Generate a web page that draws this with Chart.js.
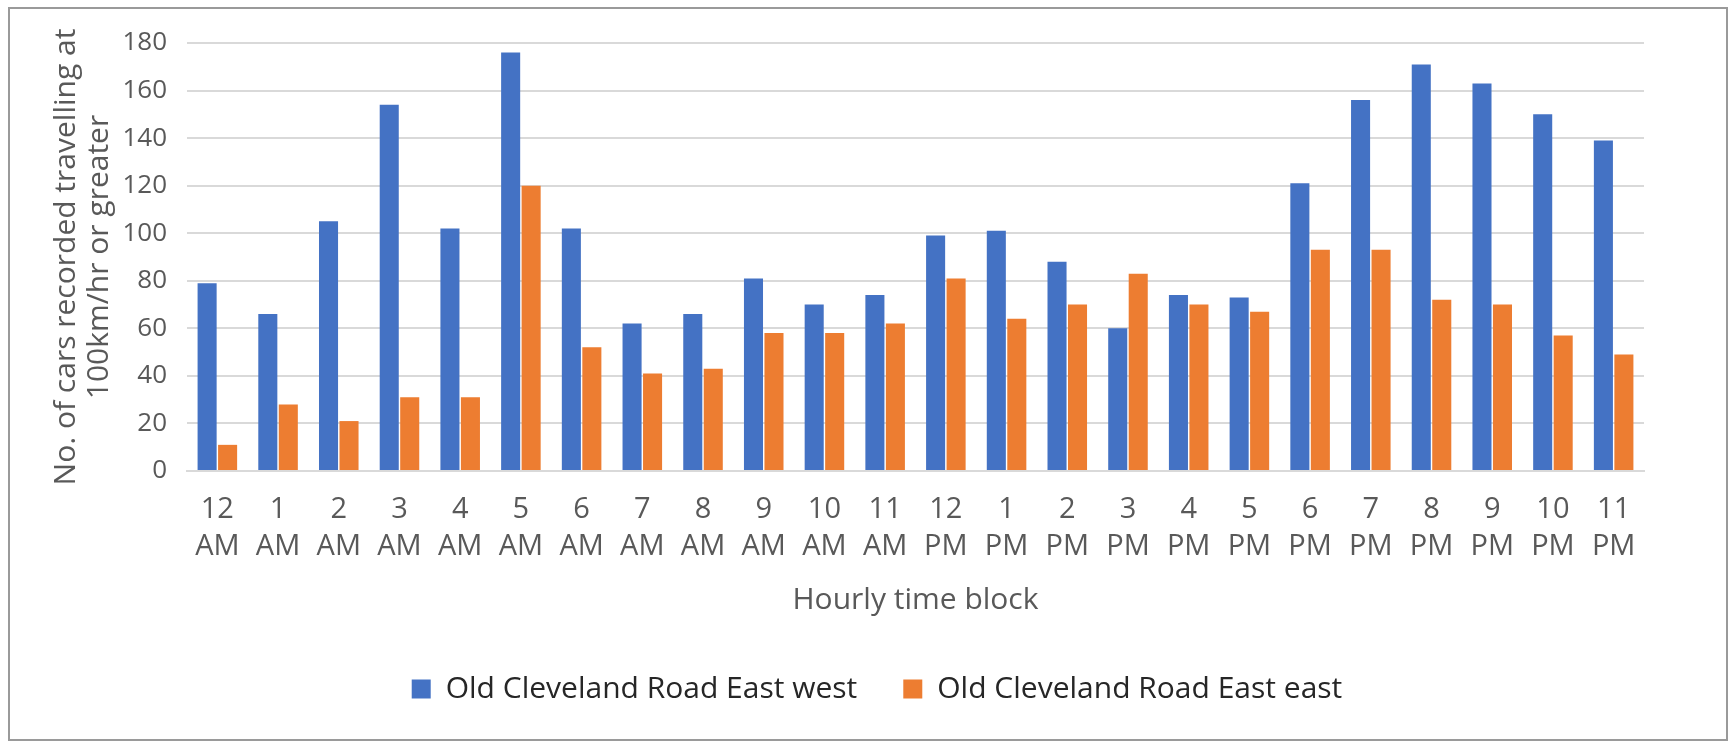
<!DOCTYPE html>
<html>
<head>
<meta charset="utf-8">
<script src="https://cdn.jsdelivr.net/npm/chart.js@4"></script>
<style>
  html, body { margin: 0; padding: 0; background: #fff; }
  #wrap { position: absolute; left: 0; top: 0; width: 1732px; height: 743px; }
  #frame {
    position: absolute; left: 8px; top: 7px; width: 1716px; height: 730px;
    border: 2px solid #9a9a9a; pointer-events: none;
  }
</style>
</head>
<body>
<div id="wrap">
  <canvas id="chart" width="1732" height="743"></canvas>
  <div id="frame"></div>
</div>
<script>
const hours = [
  ["12", "AM"], ["1", "AM"], ["2", "AM"], ["3", "AM"], ["4", "AM"], ["5", "AM"],
  ["6", "AM"], ["7", "AM"], ["8", "AM"], ["9", "AM"], ["10", "AM"], ["11", "AM"],
  ["12", "PM"], ["1", "PM"], ["2", "PM"], ["3", "PM"], ["4", "PM"], ["5", "PM"],
  ["6", "PM"], ["7", "PM"], ["8", "PM"], ["9", "PM"], ["10", "PM"], ["11", "PM"],
];
const westbound = [79, 66, 105, 154, 102, 176, 102, 62, 66, 81, 70, 74,
                   99, 101, 88, 60, 74, 73, 121, 156, 171, 163, 150, 139];
const eastbound = [11, 28, 21, 31, 31, 120, 52, 41, 43, 58, 58, 62,
                   81, 64, 70, 83, 70, 67, 93, 93, 72, 70, 57, 49];
const seriesNames = ["Old Cleveland Road East west", "Old Cleveland Road East east"];
const yTitle = ["No. of cars recorded travelling at", "100km/hr or greater"];
const xTitle = "Hourly time block";

const FONT = "'Open Sans', 'Noto Sans', sans-serif";
const GREY = "#595959";
const GRID = "#d9d9d9";

new Chart(document.getElementById("chart"), {
  type: "bar",
  data: {
    labels: hours,
    datasets: [
      { label: seriesNames[0], data: westbound, backgroundColor: "#4472c4" },
      { label: seriesNames[1], data: eastbound, backgroundColor: "#ed7d31" },
    ],
  },
  options: {
    responsive: false,
    animation: false,
    events: [],
    categoryPercentage: 0.675,
    barPercentage: 0.93,
    layout: { padding: { left: 110, right: 88, top: 43, bottom: 29 } },
    plugins: {
      tooltip: { enabled: false },
      legend: {
        position: "bottom",
        labels: {
          boxWidth: 19,
          boxHeight: 19,
          padding: 46,
          color: "#262626",
          font: { family: FONT, size: 30 },
        },
      },
    },
    scales: {
      x: {
        grid: { display: false, drawTicks: false },
        border: { color: GRID, width: 2 },
        ticks: {
          color: GREY,
          padding: 20,
          maxRotation: 0,
          autoSkip: false,
          font: { family: FONT, size: 29, lineHeight: 1.28 },
        },
        title: {
          display: true,
          text: xTitle,
          color: GREY,
          padding: { top: 0, bottom: 10 },
          font: { family: FONT, size: 30, lineHeight: 1.2 },
        },
        // axis band runs from the plot floor down to the legend
        afterFit(scale) { scale.height = 157; },
      },
      y: {
        min: 0,
        max: 180,
        grid: { color: GRID, lineWidth: 2, drawTicks: false },
        border: { display: false },
        ticks: {
          stepSize: 20,
          color: GREY,
          padding: 20,
          font: { family: FONT, size: 26 },
        },
        title: {
          display: true,
          text: yTitle,
          color: GREY,
          padding: { top: -60, bottom: 0 },
          font: { family: FONT, size: 30, lineHeight: 1.1 },
        },
        afterFit(scale) { scale.width = 77; },
      },
    },
  },
});
</script>
</body>
</html>
